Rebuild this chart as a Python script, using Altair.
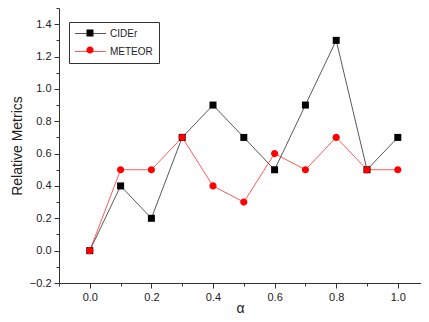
import altair as alt
import pandas as pd

alpha = [0.0, 0.1, 0.2, 0.3, 0.4, 0.5, 0.6, 0.7, 0.8, 0.9, 1.0]
cider = [0.0, 0.4, 0.2, 0.7, 0.9, 0.7, 0.5, 0.9, 1.3, 0.5, 0.7]
meteor = [0.0, 0.5, 0.5, 0.7, 0.4, 0.3, 0.6, 0.5, 0.7, 0.5, 0.5]
series = ["CIDEr", "METEOR"]
colors = ["#000000", "#ff0000"]
x_ticks = [-0.1, 0.0, 0.1, 0.2, 0.3, 0.4, 0.5, 0.6, 0.7, 0.8, 0.9, 1.0]
y_ticks = [-0.2, -0.1, 0.0, 0.1, 0.2, 0.3, 0.4, 0.5, 0.6, 0.7, 0.8, 0.9, 1.0,
           1.1, 1.2, 1.3, 1.4, 1.5]

rows = []
for a, v in zip(alpha, cider):
    rows.append({"alpha": a, "value": v, "series": "CIDEr", "series2": "CIDEr", "order": 0})
for a, v in zip(alpha, meteor):
    rows.append({"alpha": a, "value": v, "series": "METEOR", "series2": "METEOR", "order": 1})
df = pd.DataFrame(rows)

FONT = "Liberation Sans"
label_expr = "round(datum.value*10)%2==0 ? format(datum.value,'.1f') : ''"
major = "round(datum.value*10)%2==0"
tick_size = {"condition": {"test": major, "value": 5}, "value": 3}

x = alt.X("alpha:Q",
          scale=alt.Scale(domain=[-0.1, 1.0753], nice=False, zero=False),
          axis=alt.Axis(title="α", values=x_ticks, labelExpr=label_expr,
                        tickSize=tick_size, labelPadding=3, grid=False,
                        titleFontSize=14, titleFontWeight="normal",
                        titleY=29, titleBaseline="alphabetic"))
y = alt.Y("value:Q",
          scale=alt.Scale(domain=[-0.2, 1.5], nice=False, zero=False),
          axis=alt.Axis(title="Relative Metrics", values=y_ticks, labelExpr=label_expr,
                        tickSize=tick_size, labelPadding=3, grid=False,
                        titleFontSize=14, titleFontWeight="normal", titlePadding=5))

line_path = "M-3.1,0H3.1"
sq_path = "M-0.7,-0.7H0.7V0.7H-0.7Z"
ci_path = "M0.72,0A0.72,0.72,0,1,1,-0.72,0A0.72,0.72,0,1,1,0.72,0Z"

common_legend = dict(
    title=None, orient="none", legendX=10, legendY=14, padding=6,
    symbolSize=100, symbolOffset=10, labelOffset=14, rowPadding=7,
    labelFontSize=10, labelFont=FONT,
)

legend_lines = alt.Legend(
    strokeColor="#333333", fillColor="transparent", symbolType=line_path,
    symbolStrokeWidth=1, labelColor="#222222", zindex=0, **common_legend)
legend_marks = alt.Legend(
    strokeColor="transparent", fillColor="transparent",
    labelColor="transparent", symbolStrokeWidth=0, symbolOpacity=1,
    zindex=1, **common_legend)

lines = alt.Chart(df).mark_line(strokeWidth=1, opacity=0.65).encode(
    x=x, y=y,
    color=alt.Color("series:N", scale=alt.Scale(domain=series, range=colors),
                    legend=legend_lines),
)

points = alt.Chart(df).mark_point(filled=True, opacity=1, size=100, strokeWidth=0).encode(
    x=x, y=y,
    fill=alt.Fill("series2:N", scale=alt.Scale(range=colors), legend=legend_marks),
    shape=alt.Shape("series2:N", scale=alt.Scale(range=[sq_path, ci_path]),
                    legend=legend_marks),
    order=alt.Order("order:Q"),
)

chart = alt.layer(lines, points).properties(
    width=362, height=275,
    autosize=alt.AutoSizeParams(type="none"),
    padding={"left": 51, "top": 0, "right": 0, "bottom": 31},
).configure_view(stroke=None).configure_axis(
    labelFont=FONT, titleFont=FONT, labelFontSize=11, labelColor="#222222",
    titleColor="#222222", domainColor="#333333", tickColor="#333333",
)

chart.save("out.html", embed_options={"renderer": "svg", "actions": False})
